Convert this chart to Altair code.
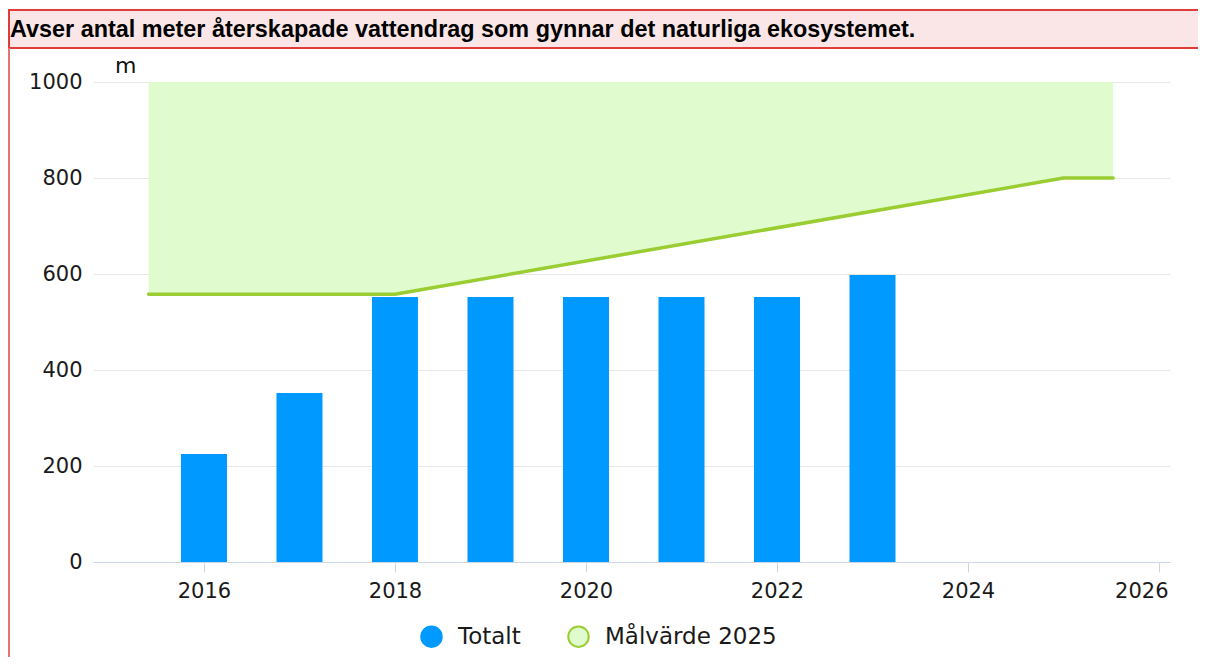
import altair as alt
import pandas as pd

title_text = "Avser antal meter återskapade vattendrag som gynnar det naturliga ekosystemet."
unit_label = "m"
series_names = ["Totalt", "Målvärde 2025"]

years = [2016, 2017, 2018, 2019, 2020, 2021, 2022, 2023]
totalt = [225, 352, 552, 552, 552, 552, 552, 598]

target_x = [2015.42, 2018.0, 2025.0, 2025.52]
target_y = [558, 558, 800, 800]
target_top = [1000, 1000, 1000, 1000]

x_ticks = [2016, 2018, 2020, 2022, 2024, 2026]
y_ticks = [0, 200, 400, 600, 800, 1000]

FONT = "DejaVu Sans"
W, H = 1077, 480

bars_df = pd.DataFrame({"year": years, "value": totalt, "series": series_names[0]})
target_df = pd.DataFrame({"year": target_x, "value": target_y, "top": target_top,
                          "series": series_names[1]})
title_df = pd.DataFrame({"t": [title_text]})
unit_df = pd.DataFrame({"t": [unit_label]})

xscale = alt.Scale(domain=[2014.838, 2026.115], nice=False, zero=False, padding=0)
yscale = alt.Scale(domain=[0, 1000], nice=False, padding=0)
color_scale = alt.Scale(domain=series_names, range=["#0099ff", "#e0fbcd"])

x_axis = alt.Axis(values=x_ticks, format="d", title=None, grid=False,
                  domainColor="#ccd6eb", tickColor="#ccd6eb", tickSize=10,
                  labelFontSize=21, labelFont=FONT, labelColor="#1a1a1a",
                  labelPadding=8, labelFlush=12, labelFlushOffset=9)
y_axis = alt.Axis(values=y_ticks, format="d", title=None, domain=False, ticks=False,
                  gridColor="#e6e6e6", gridWidth=1, labelPadding=11,
                  labelFontSize=21, labelFont=FONT, labelColor="#1a1a1a")

legend = alt.Legend(title=None, orient="none", legendX=327, legendY=543,
                    direction="horizontal", symbolType="circle", symbolSize=420,
                    labelFontSize=23, labelFont=FONT, labelColor="#1a1a1a", labelLimit=500,
                    labelOffset=15, columnPadding=43, padding=0, symbolOpacity=1,
                    symbolStrokeWidth=2,
                    symbolStrokeColor={"expr": "datum.value === 'Totalt' ? '#0099ff' : '#9acd32'"})

title_box = alt.Chart(title_df).mark_rect(fill="#fae6e6", stroke="#e03c3c", strokeWidth=2).encode(
    x=alt.value(-84), x2=alt.value(1110), y=alt.value(-72), y2=alt.value(-34))
left_rule = alt.Chart(title_df).mark_rule(color="#e57373", strokeWidth=2).encode(
    x=alt.value(-84), y=alt.value(-34), y2=alt.value(580))
title_txt = alt.Chart(title_df).mark_text(align="left", baseline="alphabetic", font="Liberation Sans",
                                          fontWeight="bold", fontSize=23.4, color="#000000").encode(
    x=alt.value(-83), y=alt.value(-45), text="t:N")
unit_txt = alt.Chart(unit_df).mark_text(align="left", baseline="alphabetic", font=FONT,
                                        fontSize=22, color="#111111").encode(
    x=alt.value(22), y=alt.value(-9), text="t:N")

area = alt.Chart(target_df).mark_area(opacity=1).encode(
    x=alt.X("year:Q", scale=xscale, axis=x_axis),
    y=alt.Y("value:Q", scale=yscale, axis=y_axis),
    y2="top:Q",
    color=alt.Color("series:N", scale=color_scale, legend=legend),
)
line = alt.Chart(target_df).mark_line(color="#9acd32", strokeWidth=3.5, strokeCap="round",
                                      strokeJoin="round").encode(
    x=alt.X("year:Q", scale=xscale),
    y=alt.Y("value:Q", scale=yscale),
)
bars = alt.Chart(bars_df).mark_bar(size=46, opacity=1).encode(
    x=alt.X("year:Q", scale=xscale),
    y=alt.Y("value:Q", scale=yscale, stack=None),
    color=alt.Color("series:N", scale=color_scale, legend=legend),
)

chart = alt.layer(title_box, left_rule, title_txt, unit_txt, area, bars, line).properties(
    width=W, height=H,
    autosize=alt.AutoSizeParams(type="none"),
    padding={"left": 85, "top": 74, "right": 28, "bottom": 95},
    background="white",
).configure_view(stroke=None)

chart.save("out.html", embed_options={"renderer": "svg", "actions": False})
